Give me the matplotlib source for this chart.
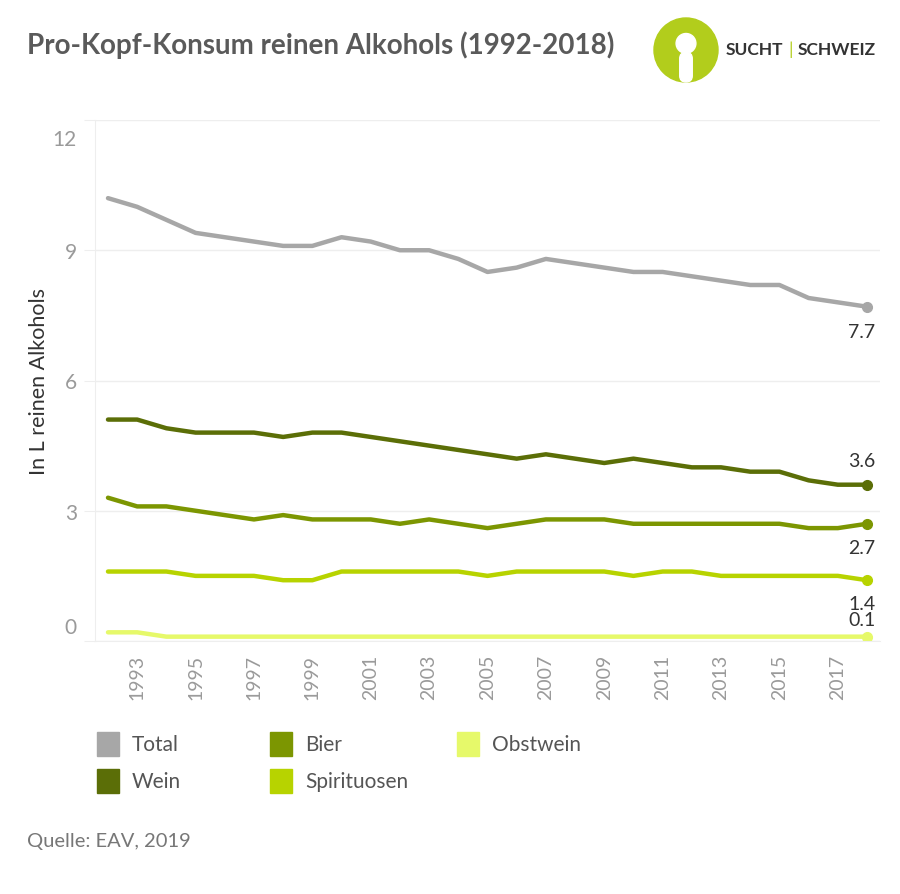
import numpy as np
import matplotlib.pyplot as plt
import matplotlib.transforms as mtransforms
from matplotlib.patches import Circle, FancyBboxPatch, Rectangle

plt.rcParams['font.family'] = ['Lato', 'DejaVu Sans']

years = list(range(1992, 2019))
total = [10.2, 10.0, 9.7, 9.4, 9.3, 9.2, 9.1, 9.1, 9.3, 9.2, 9.0, 9.0, 8.8,
         8.5, 8.6, 8.8, 8.7, 8.6, 8.5, 8.5, 8.4, 8.3, 8.2, 8.2, 7.9, 7.8, 7.7]
wein = [5.1, 5.1, 4.9, 4.8, 4.8, 4.8, 4.7, 4.8, 4.8, 4.7, 4.6, 4.5, 4.4,
        4.3, 4.2, 4.3, 4.2, 4.1, 4.2, 4.1, 4.0, 4.0, 3.9, 3.9, 3.7, 3.6, 3.6]
bier = [3.3, 3.1, 3.1, 3.0, 2.9, 2.8, 2.9, 2.8, 2.8, 2.8, 2.7, 2.8, 2.7,
        2.6, 2.7, 2.8, 2.8, 2.8, 2.7, 2.7, 2.7, 2.7, 2.7, 2.7, 2.6, 2.6, 2.7]
spirit = [1.6, 1.6, 1.6, 1.5, 1.5, 1.5, 1.4, 1.4, 1.6, 1.6, 1.6, 1.6, 1.6,
          1.5, 1.6, 1.6, 1.6, 1.6, 1.5, 1.6, 1.6, 1.5, 1.5, 1.5, 1.5, 1.5, 1.4]
obst = [0.2, 0.2, 0.1, 0.1, 0.1, 0.1, 0.1, 0.1, 0.1, 0.1, 0.1, 0.1, 0.1,
        0.1, 0.1, 0.1, 0.1, 0.1, 0.1, 0.1, 0.1, 0.1, 0.1, 0.1, 0.1, 0.1, 0.1]

names = ['Total', 'Wein', 'Bier', 'Spirituosen', 'Obstwein']
series = [total, wein, bier, spirit, obst]
colors = ['#a7a7a7', '#5b6e07', '#7c9601', '#b7d300', '#e6f96a']

fig = plt.figure(figsize=(9, 8.95), dpi=100)
ax = fig.add_axes([95/900, 1 - 642/895, 785/900, 521/895])

for vals, c in zip(series, colors):
    ax.plot(years, vals, color=c, lw=3.2, solid_joinstyle='round', solid_capstyle='round')
    ax.plot(years[-1], vals[-1], 'o', color=c, ms=7)

# end labels (offset in points)
offs = {'Total': -12, 'Wein': 11, 'Bier': -11, 'Spirituosen': -11, 'Obstwein': 6}
for name, vals in zip(names, series):
    dy = offs[name]
    ax.annotate(f'{vals[-1]:.1f}', (years[-1], vals[-1]), xytext=(6, dy),
                textcoords='offset points', ha='right',
                va='top' if dy < 0 else 'bottom', fontsize=14, color='#333333')

ax.set_xlim(1991.555, 2018.445)
ax.set_ylim(0, 12)
ax.set_yticks([0, 3, 6, 9, 12])
ax.set_xticks(range(1993, 2018, 2))
ax.set_xticklabels([str(y) for y in range(1993, 2018, 2)], rotation=90)
ax.tick_params(axis='x', length=0, pad=9, labelsize=14, labelcolor='#9a9a9a')
ax.tick_params(axis='y', length=8, color='#eeeeee', pad=5, labelsize=15, labelcolor='#9a9a9a')
lbls = ax.get_yticklabels()
lbls[0].set_va('center')
lbls[0].set_transform(lbls[0].get_transform() +
                      mtransforms.ScaledTranslation(0, 14/100, fig.dpi_scale_trans))
lbls[-1].set_va('center')
lbls[-1].set_transform(lbls[-1].get_transform() +
                       mtransforms.ScaledTranslation(0, -19/100, fig.dpi_scale_trans))

ax.grid(axis='y', color='#eeeeee', lw=1)
ax.set_axisbelow(True)
for s in ['top', 'right']:
    ax.spines[s].set_visible(False)
ax.spines['left'].set_color('#eeeeee')
ax.spines['bottom'].set_color('#eeeeee')
ax.set_ylabel('In L reinen Alkohols', fontsize=15.5, color='#333333')
ax.yaxis.set_label_coords(-0.058, 0.5)

# title
fig.text(27/900, 1 - 45/895, 'Pro-Kopf-Konsum reinen Alkohols (1992-2018)',
         fontsize=20, color='#5a5a5a', fontweight='bold', va='center', ha='left')

# logo
lax = fig.add_axes([653/900, 1 - 84/895, 66/900, 66/895])
lax.set_xlim(-1, 1)
lax.set_ylim(-1, 1)
lax.set_aspect('equal')
lax.axis('off')
lax.add_patch(Circle((0, 0), 0.97, color='#b2cd1c'))
lax.add_patch(Circle((0, 0.2), 0.3, color='white'))
lax.add_patch(FancyBboxPatch((-0.19, -0.97), 0.38, 0.9, boxstyle='round,pad=0,rounding_size=0.19',
                             color='white'))
fig.text(726/900, 1 - 50/895, 'SUCHT', fontsize=12.5, color='#333333', fontweight='bold',
         va='center', ha='left')
fig.text(791/900, 1 - 50/895, '|', fontsize=13, color='#b2cd1c', va='center', ha='center')
fig.text(798/900, 1 - 50/895, 'SCHWEIZ', fontsize=12.5, color='#333333', fontweight='bold',
         va='center', ha='left')

# legend
leg_pos = {'Total': (97, 745), 'Bier': (270, 745), 'Obstwein': (457, 745),
           'Wein': (97, 782), 'Spirituosen': (270, 782)}
for name, c in zip(names, colors):
    x0, y0 = leg_pos[name]
    fig.patches.append(Rectangle((x0/900, 1 - (y0 + 12)/895), 22/900, 24/895,
                                 color=c, transform=fig.transFigure))
    fig.text((x0 + 35)/900, 1 - y0/895, name, fontsize=15, color='#555555',
             va='center', ha='left')

fig.text(27/900, 1 - 842/895, 'Quelle: EAV, 2019', fontsize=14.5, color='#777777',
         va='center', ha='left')

fig.savefig('out.png', dpi=100)
